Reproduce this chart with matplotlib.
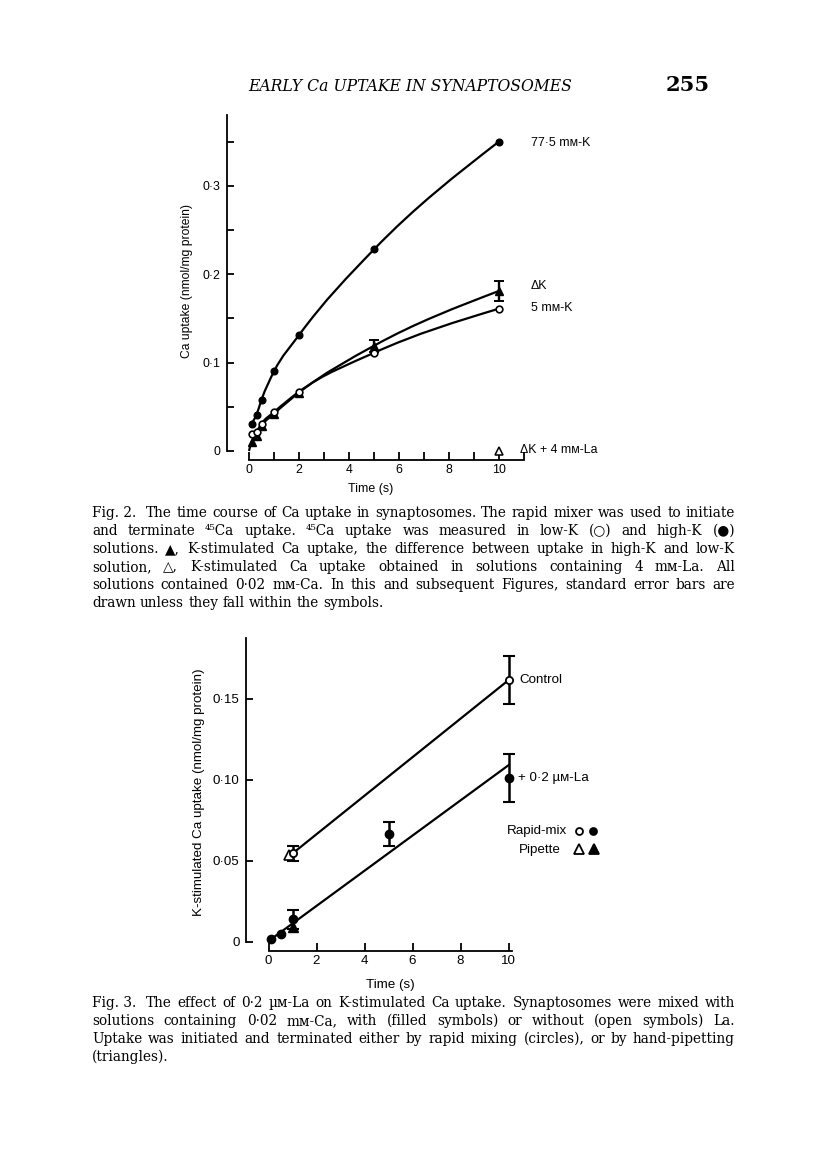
import matplotlib
matplotlib.use("Agg")
import matplotlib.pyplot as plt
import numpy as np
from matplotlib.lines import Line2D
from matplotlib.patches import PathPatch
from matplotlib.path import Path

W, H = 816, 1160
SANS = ["Liberation Sans", "DejaVu Sans"]
SERIF = ["DejaVu Serif", "DejaVu Sans"]

# Fig. 2 - time course of Ca uptake (nmol/mg protein)
T2 = [0.1, 0.3, 0.5, 1, 2, 5, 10]
HIGH_K = [0.031, 0.041, 0.058, 0.090, 0.131, 0.228, 0.350]
LOW_K = [0.019, 0.022, 0.031, 0.044, 0.067, 0.111, 0.161]
DELTA_K = [0.010, 0.017, 0.028, 0.042, 0.066, 0.119, 0.181]
DELTA_K_ERR = [0, 0, 0, 0, 0, 0.007, 0.011]
DK_LA_T = [10]
DK_LA = [0.0]
Y2_TICKS = [0, 0.1, 0.2, 0.3]
Y2_LABELS = ["0", "0·1", "0·2", "0·3"]

# Fig. 3 - K-stimulated Ca uptake with / without 0.2 uM La
CTRL_RM_T = [1, 10]
CTRL_RM = [0.0545, 0.1615]
CTRL_RM_ERR = [0.0045, 0.015]
CTRL_PIP_T = [0.85]
CTRL_PIP = [0.0535]
LA_RM_T = [0.1, 0.5, 1, 5, 10]
LA_RM = [0.002, 0.0047, 0.0138, 0.0665, 0.101]
LA_RM_ERR = [0, 0, 0.006, 0.0073, 0.015]
LA_PIP_T = [1]
LA_PIP = [0.0093]
CTRL_FIT_T = [1, 10]
CTRL_FIT = [0.0545, 0.1615]
LA_FIT_T = [0.1, 10]
LA_FIT = [0.0015, 0.109]
Y3_TICKS = [0, 0.05, 0.10, 0.15]
Y3_LABELS = ["0", "0·05", "0·10", "0·15"]

CAP2 = [
    "Fig.\u00a02.\u00a0 The time course of Ca uptake in synaptosomes. The rapid mixer was used to initiate",
    "and terminate ⁴⁵Ca uptake. ⁴⁵Ca uptake was measured in low-K (○) and high-K (●)",
    "solutions. ▲, K-stimulated Ca uptake, the difference between uptake in high-K and low-K",
    "solution, △, K-stimulated Ca uptake obtained in solutions containing 4 mᴍ-La. All",
    "solutions contained 0·02 mᴍ-Ca. In this and subsequent Figures, standard error bars are",
    "drawn unless they fall within the symbols.",
]
CAP3 = [
    "Fig.\u00a03.\u00a0 The effect of 0·2 µᴍ-La on K-stimulated Ca uptake. Synaptosomes were mixed with",
    "solutions containing 0·02 mᴍ-Ca, with (filled symbols) or without (open symbols) La.",
    "Uptake was initiated and terminated either by rapid mixing (circles), or by hand-pipetting",
    "(triangles).",
]


def rect(left, top, right, bottom):
    return [left / W, 1 - bottom / H, (right - left) / W, (bottom - top) / H]


def ftext(x, y, s, **kw):
    return fig.text(x / W, 1 - y / H, s, **kw)


def smooth(ax, xs, ys, lw):
    # hand-drawn style curve: cubic Hermite through the points, drawn as a bezier path
    x = np.asarray(xs, float)
    y = np.asarray(ys, float)
    h = np.diff(x)
    d = np.diff(y) / h
    m = np.empty_like(x)
    m[1:-1] = (h[:-1] * d[1:] + h[1:] * d[:-1]) / (h[:-1] + h[1:])
    m[0] = (3 * d[0] - m[1]) / 2
    m[-1] = (3 * d[-1] - m[-2]) / 2
    verts, codes = [(x[0], y[0])], [Path.MOVETO]
    for i in range(len(x) - 1):
        verts += [(x[i] + h[i] / 3, y[i] + m[i] * h[i] / 3),
                  (x[i + 1] - h[i] / 3, y[i + 1] - m[i + 1] * h[i] / 3),
                  (x[i + 1], y[i + 1])]
        codes += [Path.CURVE4] * 3
    ax.add_patch(PathPatch(Path(verts, codes), fill=False, lw=lw, color="k", zorder=2))


def style_axes(ax, size):
    for side in ("top", "right"):
        ax.spines[side].set_visible(False)
    for side in ("left", "bottom"):
        ax.spines[side].set_linewidth(1.3)
    ax.patch.set_visible(False)
    ax.tick_params(which="both", direction="in", width=1.3, labelsize=size, colors="k")
    for lab in ax.get_xticklabels() + ax.get_yticklabels():
        lab.set_family(SANS)


fig = plt.figure(figsize=(W / 100, H / 100), dpi=100)
rend = fig.canvas.get_renderer()

# ---------- Fig. 2 ----------
ax2 = fig.add_axes(rect(227, 115, 530, 460))
ax2.set_xlim(-0.88, 11.24)
ax2.set_ylim(-0.0102, 0.380)
ax2.spines["left"].set_bounds(0, 0.38)
ax2.spines["bottom"].set_bounds(0, 11)
ax2.set_xticks(range(0, 11, 2))
ax2.set_xticks(range(1, 12, 2), minor=True)
ax2.set_yticks(Y2_TICKS, Y2_LABELS)
ax2.set_yticks([0.05, 0.15, 0.25, 0.35], minor=True)
style_axes(ax2, 8.9)
ax2.tick_params(axis="y", which="both", length=5, pad=5)
ax2.tick_params(axis="x", which="both", length=5.5, pad=3)

smooth(ax2, T2, HIGH_K, 1.6)
smooth(ax2, T2, LOW_K, 1.6)
smooth(ax2, [0.0] + T2, [0.0] + DELTA_K, 1.6)
err = np.array(DELTA_K_ERR)
m = err > 0
ax2.errorbar(np.array(T2)[m], np.array(DELTA_K)[m], yerr=err[m], fmt="none",
             ecolor="k", elinewidth=1.7, capsize=3.6, capthick=1.4, zorder=3)
ax2.plot(T2, HIGH_K, "o", color="k", ms=4.8, zorder=4, clip_on=False)
ax2.plot(T2, DELTA_K, "^", color="k", ms=5.4, zorder=4, clip_on=False)
ax2.plot(T2, LOW_K, "o", mfc="white", mec="k", mew=1.2, ms=4.8, zorder=5, clip_on=False)
ax2.plot(DK_LA_T, DK_LA, "^", mfc="white", mec="k", mew=1.1, ms=5.4, zorder=5, clip_on=False)

ftext(187, 281, "Ca uptake (nmol/mg protein)", rotation=90, ha="center", va="center",
      fontsize=8.7, family=SANS)
ftext(371, 489, "Time (s)", ha="center", va="center", fontsize=8.9, family=SANS)
ftext(531, 143, "77·5 mᴍ-K", ha="left", va="center", fontsize=8.9, family=SANS)
ftext(531, 286, "ΔK", ha="left", va="center", fontsize=8.9, family=SANS)
ftext(531, 308, "5 mᴍ-K", ha="left", va="center", fontsize=8.9, family=SANS)
ftext(520, 450, "ΔK + 4 mᴍ-La", ha="left", va="center", fontsize=8.9, family=SANS)

# ---------- Fig. 3 ----------
ax3 = fig.add_axes(rect(246.5, 638, 516, 951))
ax3.set_xlim(-0.917, 10.31)
ax3.set_ylim(-0.0057, 0.1875)
ax3.spines["left"].set_bounds(0, 0.1875)
ax3.spines["bottom"].set_bounds(0, 10.13)
ax3.set_xticks(range(0, 11, 2))
ax3.set_yticks(Y3_TICKS, Y3_LABELS)
style_axes(ax3, 9.6)
ax3.tick_params(axis="y", length=5, pad=5)
ax3.tick_params(axis="x", length=5.5, pad=3)

ax3.plot(CTRL_FIT_T, CTRL_FIT, color="k", lw=1.6, zorder=2)
ax3.plot(LA_FIT_T, LA_FIT, color="k", lw=1.6, zorder=2)
for t, v, e in ((CTRL_RM_T, CTRL_RM, CTRL_RM_ERR), (LA_RM_T, LA_RM, LA_RM_ERR)):
    e = np.array(e)
    m = e > 0
    ax3.errorbar(np.array(t)[m], np.array(v)[m], yerr=e[m], fmt="none", ecolor="k",
                 elinewidth=1.8, capsize=4.6, capthick=1.5, zorder=3)
ax3.plot(LA_RM_T, LA_RM, "o", color="k", ms=6, zorder=4, clip_on=False)
ax3.plot(LA_PIP_T, LA_PIP, "^", color="k", ms=6.5, zorder=4, clip_on=False)
ax3.plot(CTRL_PIP_T, CTRL_PIP, "^", mfc="white", mec="k", mew=1.2, ms=6.5, zorder=4)
ax3.plot(CTRL_RM_T, CTRL_RM, "o", mfc="white", mec="k", mew=1.3, ms=5.2, zorder=5)

ftext(199, 792, "K-stimulated Ca uptake (nmol/mg protein)", rotation=90, ha="center",
      va="center", fontsize=9.6, family=SANS)
ftext(390, 985, "Time (s)", ha="center", va="center", fontsize=9.6, family=SANS)
ftext(519, 680, "Control", ha="left", va="center", fontsize=9.6, family=SANS)
ftext(518, 778, "+ 0·2 µᴍ-La", ha="left", va="center", fontsize=9.6, family=SANS)
ftext(567, 831, "Rapid-mix", ha="right", va="center", fontsize=9.6, family=SANS)
ftext(561, 850, "Pipette", ha="right", va="center", fontsize=9.6, family=SANS)
for x, y, mk, face in ((579, 831, "o", "white"), (593, 831, "o", "k"),
                       (579, 849, "^", "white"), (594, 849, "^", "k")):
    fig.add_artist(Line2D([x / W], [1 - y / H], marker=mk, mfc=face, mec="k", mew=1.3,
                          ms=5.0 if mk == "o" else 6.5, ls="none"))

# ---------- page header ----------
hdr = ftext(410, 91, "EARLY Ca UPTAKE IN SYNAPTOSOMES", ha="center", va="baseline",
            fontsize=12, family=SERIF, style="italic")
hdr.set_fontsize(12 * 324 / hdr.get_window_extent(renderer=rend).width)
pg = ftext(688, 91, "255", ha="center", va="baseline", fontsize=12, family=SERIF,
           weight="bold")
pg.set_fontsize(12 * 44 / pg.get_window_extent(renderer=rend).width)

# ---------- captions (justified) ----------
CAP_L, CAP_R = 92, 735


def width_of(s, size):
    t = fig.text(0, 0, s, fontsize=size, family=SERIF)
    w = t.get_window_extent(renderer=rend).width
    t.remove()
    return w


space = width_of("a a", 10) - width_of("aa", 10)
natural = [sum(width_of(w, 10) for w in ln.split(" ")) + space * (len(ln.split(" ")) - 1)
           for ln in CAP2[:-1] + CAP3[:-1]]
CAP_SIZE = 10 * (CAP_R - CAP_L) * 0.985 / max(natural)


def justify(lines, y0, step=18):
    for k, ln in enumerate(lines):
        words = ln.split(" ")
        y = y0 + k * step
        objs = [ftext(0, y, w, fontsize=CAP_SIZE, family=SERIF, va="baseline") for w in words]
        widths = [o.get_window_extent(renderer=rend).width for o in objs]
        if k == len(lines) - 1:
            gap = space * CAP_SIZE / 10
        else:
            gap = (CAP_R - CAP_L - sum(widths)) / (len(words) - 1)
        x = CAP_L
        for o, w in zip(objs, widths):
            o.set_x(x / W)
            x += w + gap


justify(CAP2, 517)
justify(CAP3, 1007)

fig.savefig("out.png", dpi=100, facecolor="white")
